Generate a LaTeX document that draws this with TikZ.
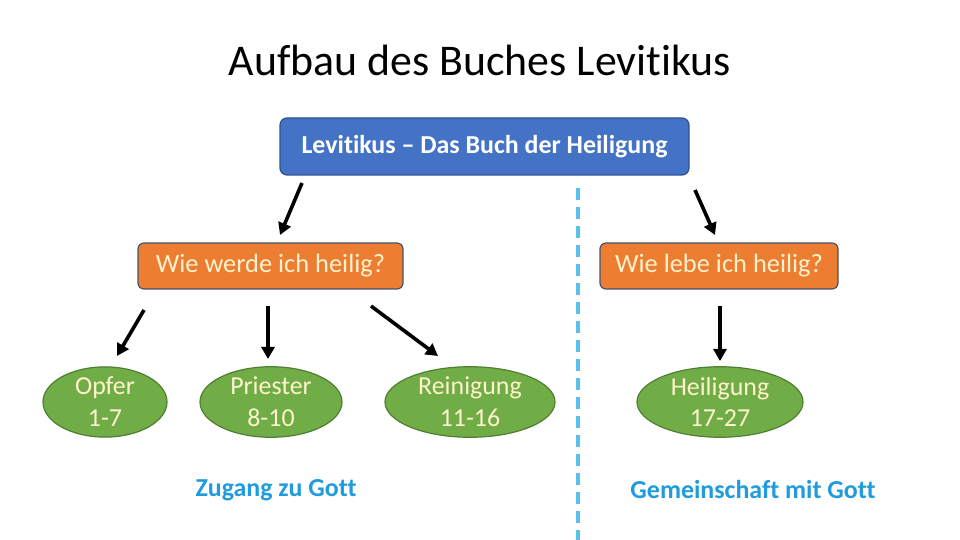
\documentclass[tikz,border=0pt]{standalone}
\usepackage{fontspec}
\setmainfont{Carlito}[RawFeature={-liga;-dlig}]
\usetikzlibrary{arrows.meta,shapes.geometric}
\definecolor{bluebox}{HTML}{4472C4}
\definecolor{blueborder}{HTML}{2F528F}
\definecolor{orangebox}{HTML}{ED7D31}
\definecolor{orangeborder}{HTML}{44546A}
\definecolor{creamtext}{HTML}{FFF2CC}
\definecolor{greenfill}{HTML}{70AD47}
\definecolor{greenborder}{HTML}{507E32}
\definecolor{gotttext}{HTML}{1F9BDE}
\definecolor{dashblue}{HTML}{5BC0EB}
\tikzset{
  topbox/.style={draw=blueborder, line width=1.2bp, fill=bluebox, rounded corners=7bp,
    minimum width=409bp, minimum height=57bp, text=white, font=\fontsize{26}{30}\selectfont\bfseries},
  qbox/.style={draw=orangeborder, line width=1.2bp, fill=orangebox, rounded corners=6bp,
    minimum height=46bp, text=creamtext, font=\fontsize{26.5}{30}\selectfont},
  chap/.style={ellipse, draw=greenborder, line width=1.2bp, fill=greenfill, inner sep=0pt,
    text=creamtext, align=center, font=\fontsize{26}{32}\selectfont},
  gott/.style={text=gotttext, font=\fontsize{26}{30}\selectfont\bfseries},
  arr/.style={line width=3.6bp, -{Triangle[length=12bp,width=13bp]}},
}
\begin{document}
\begin{tikzpicture}[x=1bp,y=-1bp]
\useasboundingbox (0,0) rectangle (960,540);
\fill[white] (0,0) rectangle (960,540);
\node[font=\fontsize{44}{50}\selectfont, anchor=base] (title) at (480,76) {Aufbau des Buches Levitikus};
\node[topbox] (top) at (484.5,146.5) {Levitikus – Das Buch der Heiligung};
\node[qbox, minimum width=265bp] (qa) at (270.5,266) {Wie werde ich heilig?};
\node[qbox, minimum width=238bp] (qb) at (719,266) {Wie lebe ich heilig?};
\node[chap, minimum width=124bp, minimum height=68bp] (opfer) at (105,402) {Opfer\\1-7};
\node[chap, minimum width=142bp, minimum height=68bp] (priester) at (271,402) {Priester\\8-10};
\node[chap, minimum width=170bp, minimum height=68bp] (reinigung) at (470,402) {Reinigung\\11-16};
\node[chap, minimum width=166bp, minimum height=68bp] (heiligung) at (720,402) {Heiligung\\17-27};
\node[gott] (zugang) at (276,490) {Zugang zu Gott};
\node[gott] (gemein) at (753,490) {Gemeinschaft mit Gott};
\coordinate (d1) at (578,188);
\coordinate (d2) at (578,540);
\draw[dashblue, line width=4bp, dash pattern=on 12bp off 7bp] (d1) -- (d2);
\coordinate (a1s) at (302,183); \coordinate (a1e) at (280,235);
\coordinate (a2s) at (695,190); \coordinate (a2e) at (715,235);
\coordinate (a3s) at (144,310); \coordinate (a3e) at (117,356);
\coordinate (a4s) at (268,306); \coordinate (a4e) at (268,359);
\coordinate (a5s) at (371,306); \coordinate (a5e) at (438,356);
\coordinate (a6s) at (720,306); \coordinate (a6e) at (720,361);
\draw[arr] (a1s) -- (a1e);
\draw[arr] (a2s) -- (a2e);
\draw[arr] (a3s) -- (a3e);
\draw[arr] (a4s) -- (a4e);
\draw[arr] (a5s) -- (a5e);
\draw[arr] (a6s) -- (a6e);
\end{tikzpicture}
\end{document}
